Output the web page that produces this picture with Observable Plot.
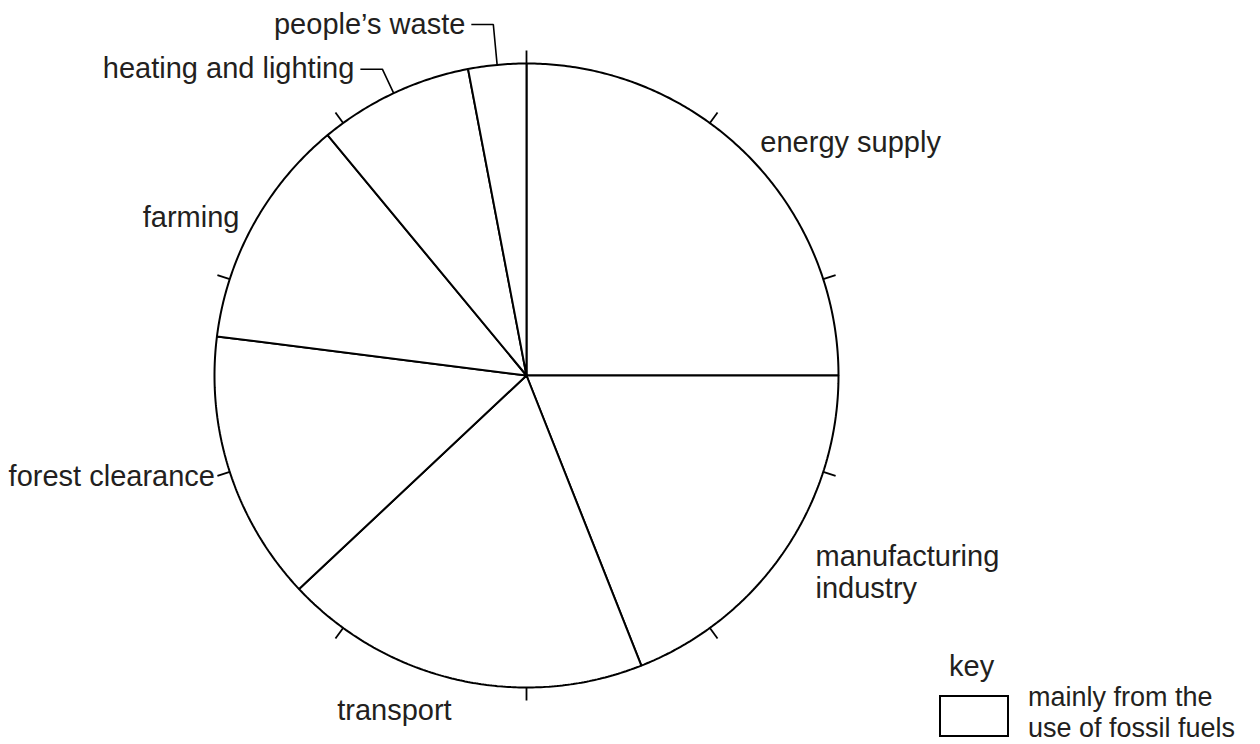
<!DOCTYPE html>
<html>
<head>
<meta charset="utf-8">
<script src="https://cdn.jsdelivr.net/npm/d3@7"></script>
<script src="https://cdn.jsdelivr.net/npm/@observablehq/plot@0.6"></script>
<style>
  body { margin: 0; background: #fff; font-family: "Liberation Sans", Arial, Helvetica, sans-serif; }
  #wrap { position: relative; width: 1260px; height: 744px; overflow: hidden; }
  .key-title { position: absolute; left: 949px; top: 652px; font-size: 29px; line-height: 29px; color: #231f20; }
  .key-box { position: absolute; left: 939px; top: 695px; width: 66px; height: 38px; border: 2px solid #000; background: #fff; }
  .key-text { position: absolute; left: 1028px; top: 682px; font-size: 27px; line-height: 30.5px; color: #231f20; white-space: nowrap; }
</style>
</head>
<body>
<div id="wrap"></div>
<script>
// ---- data ----
const categories = ["energy supply", "manufacturing industry", "transport", "forest clearance", "farming", "heating and lighting", "people’s waste"];
const shares = [25, 19, 19, 14, 12, 8, 3];           // percent of total
const tickPercents = [0, 10, 20, 30, 40, 50, 60, 70, 80, 90];
const leaderCategories = ["heating and lighting", "people’s waste"];
const keyTitle = "key";
const keyLabel = ["mainly from the", "use of fossil fuels"];

// ---- layout (not data) ----
const W = 1260, H = 744, CX = 526, CY = 375, R = 312;
const labelRadius = {"energy supply": 1.06, "manufacturing industry": 1.12, "transport": 1.1, "forest clearance": 1.05, "farming": 1.05};
const leaderRadius = {"heating and lighting": 1.085, "people’s waste": 1.13};
const tickLen = 13 / R, leaderRun = 22 / R, leaderGap = 6 / R;

const total = d3.sum(shares);
const toRad = p => (p / total) * 2 * Math.PI;
let cum = 0;
const slices = categories.map((c, i) => {
  const s = cum; cum += shares[i];
  return {cat: c, a0: toRad(s), a1: toRad(cum), mid: toRad(s + shares[i] / 2)};
});

// slice polygons: center -> arc -> center
const sliceRows = [];
for (const s of slices) {
  sliceRows.push({cat: s.cat, x: 0, y: 0});
  const n = Math.max(2, Math.ceil((s.a1 - s.a0) / (Math.PI / 360)));
  for (let k = 0; k <= n; k++) {
    const a = s.a0 + (s.a1 - s.a0) * k / n;
    sliceRows.push({cat: s.cat, x: Math.sin(a), y: Math.cos(a)});
  }
}

const labelRows = slices.filter(s => !leaderCategories.includes(s.cat)).map(s => {
  const r = labelRadius[s.cat];
  return {cat: s.cat, x: Math.sin(s.mid) * r, y: Math.cos(s.mid) * r, right: Math.sin(s.mid) > 0};
});

const leaderRows = [], leaderText = [];
for (const s of slices.filter(s => leaderCategories.includes(s.cat))) {
  const r = leaderRadius[s.cat];
  const ex = Math.sin(s.mid) * r, ey = Math.cos(s.mid) * r;
  leaderRows.push({cat: s.cat, x: Math.sin(s.mid), y: Math.cos(s.mid)});
  leaderRows.push({cat: s.cat, x: ex, y: ey});
  leaderRows.push({cat: s.cat, x: ex - leaderRun, y: ey});
  leaderText.push({cat: s.cat, x: ex - leaderRun - leaderGap, y: ey});
}

const tickRows = tickPercents.map(p => ({a: (p / 100) * 2 * Math.PI}));

const textColor = "#231f20";
const fontSize = 29;

const chart = Plot.plot({
  width: W,
  height: H,
  margin: 0,
  x: {domain: [-CX / R, (W - CX) / R], axis: null},
  y: {domain: [(CY - H) / R, CY / R], axis: null},
  style: {fontFamily: "'Liberation Sans', Arial, Helvetica, sans-serif", fontSize: fontSize + "px", background: "#fff", color: textColor},
  marks: [
    Plot.line(sliceRows, {x: "x", y: "y", z: "cat", fill: "white", stroke: "black", strokeWidth: 2, curve: "linear-closed", strokeLinejoin: "miter"}),
    Plot.link(tickRows, {x1: d => Math.sin(d.a), y1: d => Math.cos(d.a), x2: d => Math.sin(d.a) * (1 + tickLen), y2: d => Math.cos(d.a) * (1 + tickLen), stroke: "black", strokeWidth: 1.8}),
    Plot.line(leaderRows, {x: "x", y: "y", z: "cat", stroke: "black", strokeWidth: 1.6, strokeLinejoin: "miter", strokeLinecap: "butt"}),
    Plot.text(labelRows.filter(d => d.right), {x: "x", y: "y", text: "cat", textAnchor: "start", lineWidth: 7, lineHeight: 1.08, fill: textColor, fontSize}),
    Plot.text(labelRows.filter(d => !d.right), {x: "x", y: "y", text: "cat", textAnchor: "end", fill: textColor, fontSize}),
    Plot.text(leaderText, {x: "x", y: "y", text: "cat", textAnchor: "end", fill: textColor, fontSize})
  ]
});

const wrap = document.getElementById("wrap");
wrap.appendChild(chart);
const kt = document.createElement("div"); kt.className = "key-title"; kt.textContent = keyTitle; wrap.appendChild(kt);
const kb = document.createElement("div"); kb.className = "key-box"; wrap.appendChild(kb);
const kl = document.createElement("div"); kl.className = "key-text"; kl.innerHTML = keyLabel.join("<br>"); wrap.appendChild(kl);
</script>
</body>
</html>
